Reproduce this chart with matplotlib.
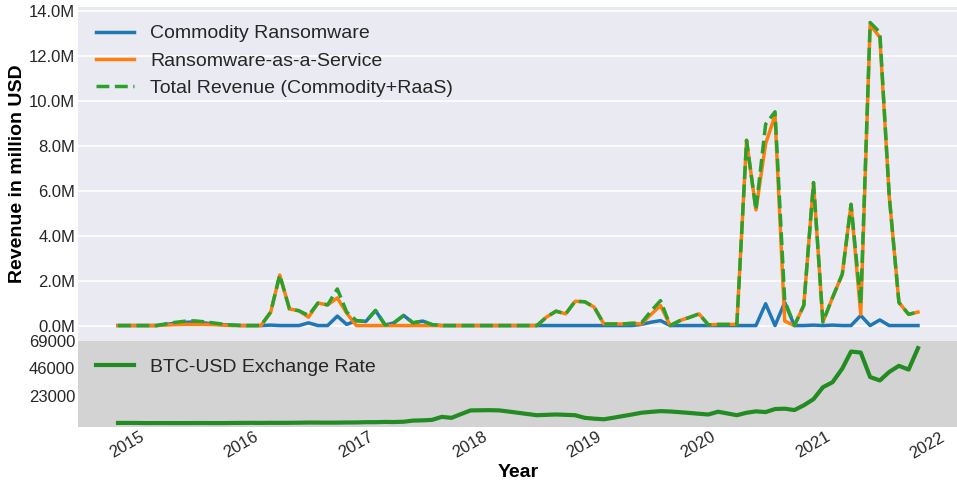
import numpy as np
import pandas as pd
import matplotlib
matplotlib.use('Agg')
import matplotlib.pyplot as plt
import matplotlib.dates as mdates
from matplotlib.ticker import FuncFormatter

# monthly revenue (million USD), Oct 2014 .. Oct 2021
months = pd.date_range('2014-10-01', periods=85, freq='MS')

commodity = [0, 0, 0, 0, 0, 0.05, 0.10, 0.14, 0.16, 0.12,
             0.08, 0.04, 0.02, 0, 0, 0, 0.02, 0, 0, 0,
             0.12, 0, 0, 0.42, 0.05, 0.22, 0.18, 0.67, 0.02, 0.12,
             0.45, 0.12, 0.20, 0.04, 0, 0, 0, 0, 0, 0,
             0, 0, 0, 0, 0, 0, 0, 0, 0, 0,
             0, 0, 0, 0, 0, 0.05, 0.15, 0.22, 0, 0,
             0, 0, 0, 0, 0, 0, 0, 0, 0.97, 0,
             1.03, 0, 0, 0.02, 0, 0.02, 0, 0, 0.45, 0,
             0.25, 0, 0, 0, 0]

raas = [0, 0, 0, 0, 0, 0.02, 0.04, 0.05, 0.05, 0.05,
        0.04, 0.02, 0, 0, 0, 0, 0.59, 2.25, 0.74, 0.66,
        0.37, 1.0, 0.92, 1.23, 0.55, 0, 0, 0, 0, 0,
        0, 0, 0, 0, 0, 0, 0, 0, 0, 0,
        0, 0, 0, 0, 0, 0.37, 0.64, 0.52, 1.08, 1.06,
        0.82, 0.07, 0.07, 0.07, 0.10, 0.07, 0.50, 0.89, 0, 0.22,
        0.36, 0.52, 0.03, 0.05, 0.05, 0.05, 8.25, 5.15, 8.1, 9.35,
        0.2, 0, 0.9, 6.35, 0.16, 1.25, 2.29, 5.4, 0.5, 13.4,
        12.84, 5.78, 1.03, 0.5, 0.6]

total = [0, 0, 0, 0, 0, 0.07, 0.14, 0.19, 0.21, 0.17,
         0.12, 0.06, 0.02, 0, 0, 0, 0.6, 2.25, 0.74, 0.66,
         0.45, 1.0, 0.92, 1.63, 0.6, 0.22, 0.18, 0.67, 0.02, 0.12,
         0.45, 0.12, 0.20, 0.04, 0, 0, 0, 0, 0, 0,
         0, 0, 0, 0, 0, 0.37, 0.64, 0.52, 1.08, 1.06,
         0.82, 0.07, 0.07, 0.07, 0.10, 0.12, 0.65, 1.11, 0, 0.22,
         0.36, 0.52, 0.03, 0.05, 0.05, 0.05, 8.25, 5.15, 8.97, 9.52,
         1.1, 0, 0.9, 6.37, 0.16, 1.25, 2.29, 5.4, 0.95, 13.5,
         13.06, 5.78, 1.03, 0.5, 0.6]

# BTC-USD monthly rate
btc = [340, 380, 320, 220, 255, 245, 235, 230, 265, 285,
       230, 235, 315, 380, 430, 370, 440, 415, 450, 530,
       670, 625, 575, 610, 700, 745, 960, 970, 1190, 1080,
       1350, 2300, 2500, 2900, 5400, 4600, 7700, 10800, 10900, 11000,
       10800, 9900, 8850, 7800, 6800, 7100, 7400, 7100, 6800, 4600,
       3900, 3400, 4700, 6000, 7400, 8850, 9600, 10200, 9900, 9300,
       8700, 8000, 7400, 9700, 8200, 6800, 8850, 10000, 9400, 11950,
       12240, 11100, 15080, 20190, 30130, 34390, 45750, 59950, 59100, 38650,
       35810, 42910, 48020, 44900, 62790]

btc_ticks = [23000, 46000, 69000]
rev_ticks = [0, 2, 4, 6, 8, 10, 12, 14]

plt.rcParams['font.family'] = ['Liberation Sans', 'DejaVu Sans']
plt.rcParams['text.color'] = '.15'
plt.rcParams['xtick.color'] = '.15'
plt.rcParams['ytick.color'] = '.15'

fig = plt.figure(figsize=(9.57, 4.86), dpi=100)
ax1 = fig.add_axes([78 / 957, (486 - 340.7) / 486, 880 / 957, 333.4 / 486])
ax2 = fig.add_axes([78 / 957, (486 - 426.7) / 486, 880 / 957, 86 / 486], sharex=ax1)

ax1.set_facecolor('#EAEAF2')
ax1.plot(months, commodity, color='#1f77b4', lw=2.5, label='Commodity Ransomware')
ax1.plot(months, raas, color='#ff7f0e', lw=2.5, label='Ransomware-as-a-Service')
ax1.plot(months, total, color='#2ca02c', lw=2.5, ls='--', label='Total Revenue (Commodity+RaaS)')
ax1.set_yticks(rev_ticks)
ax1.yaxis.set_major_formatter(FuncFormatter(lambda v, p: '{:.1f}M'.format(v)))
ax1.grid(axis='y', color='white', lw=1.2)
ax1.set_axisbelow(True)
ax1.set_ylabel('Revenue in million USD', fontsize=14, fontweight='bold', labelpad=2)
ax1.legend(loc='upper left', frameon=False, fontsize=14)
ax1.tick_params(axis='both', length=0, labelsize=12, pad=2)
ax1.tick_params(axis='x', labelbottom=False)
for s in ax1.spines.values():
    s.set_visible(False)

ax2.set_facecolor('#D3D3D3')
ax2.plot(months, btc, color='#228B22', lw=3, label='BTC-USD Exchange Rate')
ax2.set_ylim(-2800, 69000)
ax2.set_yticks(btc_ticks)
ax2.legend(loc='upper left', frameon=False, fontsize=14)
ax2.tick_params(axis='both', length=0, labelsize=12, pad=2)
ax2.xaxis.set_major_locator(mdates.YearLocator())
ax2.xaxis.set_major_formatter(mdates.DateFormatter('%Y'))
for lab in ax2.get_xticklabels():
    lab.set_rotation(30)
    lab.set_ha('right')
ax2.set_xlabel('Year', fontsize=14, fontweight='bold', labelpad=2)
for s in ax2.spines.values():
    s.set_visible(False)

fig.savefig('out.png', dpi=100)
